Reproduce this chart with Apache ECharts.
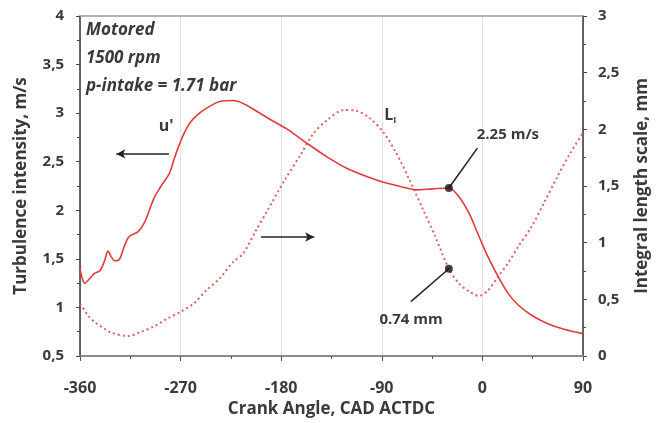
<!DOCTYPE html>
<html><head><meta charset="utf-8">
<script src="https://cdn.jsdelivr.net/npm/echarts@6/dist/echarts.min.js"></script>
<style>html,body{margin:0;padding:0;background:#fff}#c{width:659px;height:423px}</style>
</head><body><div id="c"></div>
<script>
// u' turbulence intensity (m/s), left axis
const uAngle = [-360,-358,-356,-351,-347,-342,-338,-335,-332,-329,-325,-320,-316,-308,-302,-294,-288,-280,-276,-272,-267,-261,-252,-244,-235,-223,-214,-202,-192,-174,-157,-139,-121,-104,-86,-68,-59,-45,-30,-21,-12,-3,5,14,23,32,44,58,73,90];
const uValue = [1.40,1.30,1.25,1.30,1.35,1.38,1.48,1.58,1.52,1.48,1.49,1.64,1.73,1.78,1.88,2.12,2.24,2.38,2.52,2.65,2.79,2.91,3.01,3.07,3.12,3.13,3.10,3.02,2.95,2.83,2.69,2.55,2.43,2.35,2.28,2.23,2.21,2.22,2.23,2.14,1.97,1.73,1.52,1.32,1.145,1.025,0.92,0.835,0.775,0.73];
// L_I integral length scale (mm), right axis
const lAngle = [-360,-358,-353,-347,-338,-332,-317,-305,-294,-282,-270,-258,-247,-235,-223,-214,-203,-192,-177,-163,-151,-139,-124,-113,-101,-89,-77,-65,-53,-42,-30,-21,-12,-3,5,14,23,32,44,55,67,78,90];
const lValue = [0.46,0.435,0.36,0.30,0.24,0.206,0.176,0.215,0.26,0.33,0.39,0.465,0.58,0.685,0.83,0.905,1.10,1.29,1.55,1.77,1.965,2.08,2.17,2.165,2.10,1.98,1.79,1.55,1.29,1.05,0.77,0.64,0.57,0.53,0.58,0.70,0.82,0.965,1.14,1.35,1.58,1.78,1.97];
// highlighted points at -30 CAD
const markAngle = -30;
const markU = 2.23, markL = 0.77;
const markUText = '2.25 m/s', markLText = '0.74 mm';
const infoLines = ['Motored', '1500 rpm', 'p-intake = 1.71 bar'];

const FONT = '"Open Sans"';
const TXT = '#3a3a3a';
const RED = '#e23b3b';
const comma = v => String(v).replace('.', ',');

const uData = uAngle.map((a, i) => [a, uValue[i]]);
const lData = lAngle.map((a, i) => [a, lValue[i]]);

const chart = echarts.init(document.getElementById('c'), null, {renderer: 'canvas'});
const lbl = {fontFamily: FONT, fontSize: 15, fontWeight: 'bold', color: TXT};
const ttl = {fontFamily: FONT, fontSize: 17, fontWeight: 'bold', color: TXT};
const textPt = (coord, text, extra) => Object.assign({
  coord, symbol: 'circle', symbolSize: 0,
  label: {show: true, position: 'inside', formatter: text, fontFamily: FONT, fontSize: 15, fontWeight: 'bold', color: TXT}
}, extra || {});

chart.setOption({
  animation: false,
  grid: {left: 80, right: 70, top: 16, bottom: 67},
  xAxis: [{
    type: 'value', min: -360, max: 90, interval: 90,
    name: 'Crank Angle, CAD ACTDC', nameLocation: 'middle', nameGap: 45,
    nameTextStyle: ttl,
    axisLine: {onZero: false, lineStyle: {color: '#8a8a8a', width: 2}},
    axisTick: {show: true, length: 5, lineStyle: {color: '#555'}},
    minorTick: {show: true, splitNumber: 2, length: 3, lineStyle: {color: '#555'}},
    splitLine: {show: true, lineStyle: {color: '#e2e2e2', width: 1}},
    axisLabel: Object.assign({margin: 24}, lbl, {fontSize: 16})
  }, {
    type: 'value', min: -360, max: 90, position: 'top',
    axisLine: {show: true, onZero: false, lineStyle: {color: '#9a9a9a', width: 1.5}},
    axisTick: {show: false}, axisLabel: {show: false}, splitLine: {show: false}
  }],
  yAxis: [{
    type: 'value', min: 0.5, max: 4, interval: 0.5, position: 'left',
    name: 'Turbulence intensity, m/s', nameLocation: 'middle', nameGap: 50,
    nameTextStyle: ttl,
    axisLine: {show: true, onZero: false, lineStyle: {color: '#333', width: 1.5}},
    axisTick: {show: true, length: 4, lineStyle: {color: '#444'}},
    minorTick: {show: true, splitNumber: 2, length: 3, lineStyle: {color: '#444'}},
    splitLine: {show: false},
    axisLabel: Object.assign({margin: 16, formatter: comma}, lbl)
  }, {
    type: 'value', min: 0, max: 3, interval: 0.5, position: 'right',
    name: 'Integral length scale, mm', nameLocation: 'middle', nameGap: 51,
    nameTextStyle: ttl,
    axisLine: {show: true, onZero: false, lineStyle: {color: '#333', width: 1.5}},
    axisTick: {show: true, length: 4, lineStyle: {color: '#444'}},
    minorTick: {show: true, splitNumber: 2, length: 3, lineStyle: {color: '#444'}},
    splitLine: {show: false},
    axisLabel: Object.assign({margin: 15, formatter: comma}, lbl)
  }],
  graphic: infoLines.map((t, i) => ({
    type: 'text', left: 86, top: 22 + i * 28,
    style: {text: t, fontFamily: FONT, fontSize: 17, fontStyle: 'italic', fontWeight: 'bold', fill: TXT}
  })),
  series: [{
    name: "u'", type: 'line', data: uData, yAxisIndex: 0, xAxisIndex: 0,
    smooth: 0.3, showSymbol: false, lineStyle: {color: RED, width: 1.6}, z: 3,
    markLine: {
      silent: true, symbol: ['none', 'none'], animation: false,
      label: {show: false},
      lineStyle: {color: '#222', width: 1.5, type: 'solid'},
      data: [
        [{coord: [-280.5, 2.58], symbol: 'none'}, {coord: [-327.5, 2.58], symbol: 'arrow', symbolSize: [7, 9]}],
        [{coord: [-198, 1.725], symbol: 'none'}, {coord: [-150.5, 1.725], symbol: 'arrow', symbolSize: [7, 9]}],
        [{coord: [markAngle, markU], symbol: 'none'}, {coord: [-4.5, 2.64], symbol: 'none'}]
      ]
    },
    markPoint: {
      silent: true, animation: false,
      data: [
        textPt([-283, 2.86], "u'", {label: {show: true, position: 'inside', formatter: "u'", fontFamily: FONT, fontSize: 16, fontWeight: 'bold', color: TXT}}),
        textPt([22.8, 2.775], markUText)
      ]
    }
  }, {
    name: 'L_I', type: 'line', data: lData, yAxisIndex: 1, xAxisIndex: 0,
    smooth: 0.3, showSymbol: false, lineStyle: {color: '#e06060', width: 2, type: [2, 3]}, z: 2,
    markLine: {
      silent: true, symbol: ['none', 'none'], animation: false,
      label: {show: false},
      lineStyle: {color: '#222', width: 1.5, type: 'solid'},
      data: [
        [{coord: [markAngle, markL], symbol: 'none'}, {coord: [-64, 0.48], symbol: 'none'}]
      ]
    },
    markPoint: {
      silent: true, animation: false,
      data: [
        textPt([-82.5, 2.12], '{a|L}{b|I}', {label: {show: true, position: 'inside', formatter: '{a|L}{b|I}',
          rich: {a: {fontFamily: FONT, fontSize: 16, fontWeight: 'bold', color: TXT},
                 b: {fontFamily: FONT, fontSize: 9, fontWeight: 'bold', color: TXT, padding: [9, 0, 0, 0]}}}}),
        textPt([-63.8, 0.32], markLText)
      ]
    }
  }, {
    name: 'mark u', type: 'scatter', yAxisIndex: 0, data: [[markAngle, markU]],
    symbol: 'circle', symbolSize: 8, itemStyle: {color: '#111'}, z: 5
  }, {
    name: 'mark L', type: 'scatter', yAxisIndex: 1, data: [[markAngle, markL]],
    symbol: 'circle', symbolSize: 8, itemStyle: {color: '#111'}, z: 5
  }]
});
</script></body></html>
